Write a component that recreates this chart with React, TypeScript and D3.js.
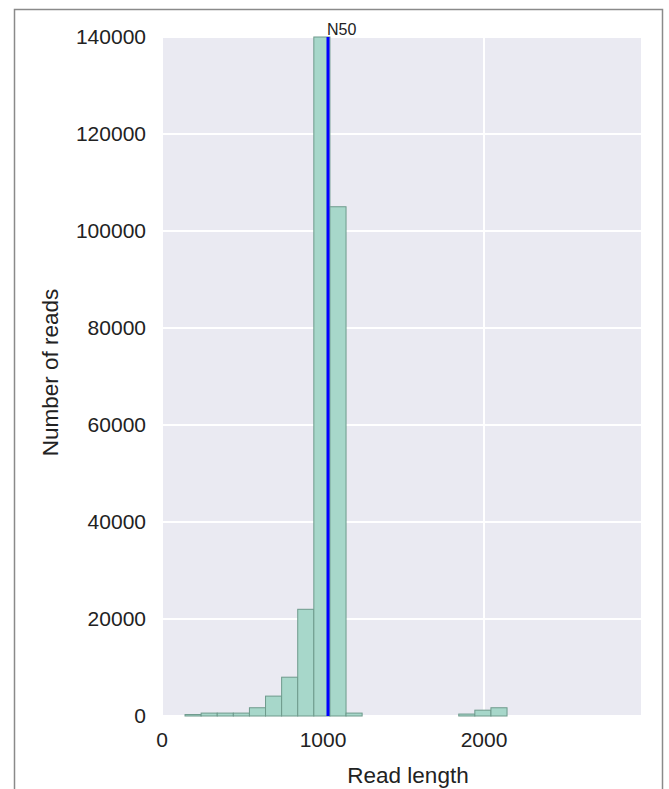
import React, { useEffect, useRef } from 'react';
import * as d3 from 'd3';

// histogram bins (left edge of each bin, read length) and counts
const binStarts = [143, 243, 343, 443, 543, 643, 743, 843, 943, 1043, 1143, 1243, 1343, 1443, 1543, 1643, 1743, 1843, 1943, 2043];
const binWidth = 100;
const counts = [300, 600, 600, 600, 1700, 4100, 8000, 22000, 140000, 105000, 600, 0, 0, 0, 0, 0, 0, 400, 1200, 1700];
const n50 = 1031;
const xTicks = [0, 1000, 2000];
const yTicks = [0, 20000, 40000, 60000, 80000, 100000, 120000, 140000];

const App = () => {
  const svgRef = useRef<SVGSVGElement | null>(null);

  useEffect(() => {
    const W = 669;
    const H = 789;
    const margin = { top: 37, right: 28, bottom: 73, left: 162 };
    const width = W - margin.left - margin.right;
    const height = H - margin.top - margin.bottom;
    const font = 'Liberation Sans, Arial, sans-serif';

    const root = d3.select(svgRef.current);
    root.selectAll('*').remove();

    // outer frame
    root.append('rect')
      .attr('x', 14.5)
      .attr('y', 9.5)
      .attr('width', 648)
      .attr('height', 800)
      .attr('fill', 'white')
      .attr('stroke', '#8a8a8a')
      .attr('stroke-width', 1.5);

    const svg = root.append('g')
      .attr('transform', `translate(${margin.left},${margin.top})`);

    const x = d3.scaleLinear().domain([0, 2975]).range([0, width]);
    const y = d3.scaleLinear().domain([0, 140000]).range([height, 0]);

    // background
    svg.append('rect')
      .attr('width', width)
      .attr('height', height)
      .attr('fill', '#eaeaf2');

    // grid
    svg.append('g')
      .selectAll('line')
      .data(yTicks)
      .enter()
      .append('line')
      .attr('x1', 0)
      .attr('x2', width)
      .attr('y1', d => y(d))
      .attr('y2', d => y(d))
      .attr('stroke', 'white')
      .attr('stroke-width', 2);

    svg.append('g')
      .selectAll('line')
      .data(xTicks)
      .enter()
      .append('line')
      .attr('x1', d => x(d))
      .attr('x2', d => x(d))
      .attr('y1', 0)
      .attr('y2', height)
      .attr('stroke', 'white')
      .attr('stroke-width', 2);

    // bars
    const data = binStarts.map((s, i) => ({ start: s, count: counts[i] })).filter(d => d.count > 0);
    svg.selectAll('.bar')
      .data(data)
      .enter()
      .append('rect')
      .attr('class', 'bar')
      .attr('x', d => x(d.start))
      .attr('y', d => y(d.count))
      .attr('width', d => x(d.start + binWidth) - x(d.start))
      .attr('height', d => height - y(d.count))
      .attr('fill', '#a7d7ca')
      .attr('stroke', '#6e9a8c')
      .attr('stroke-width', 1);

    // N50 line
    svg.append('line')
      .attr('x1', x(n50))
      .attr('x2', x(n50))
      .attr('y1', 0)
      .attr('y2', height)
      .attr('stroke', '#0000ff')
      .attr('stroke-width', 3);

    svg.append('text')
      .attr('x', x(n50) - 1)
      .attr('y', -2)
      .attr('font-family', font)
      .attr('font-size', 16)
      .attr('fill', '#222')
      .text('N50');

    // tick labels
    svg.append('g')
      .selectAll('text')
      .data(xTicks)
      .enter()
      .append('text')
      .attr('x', d => x(d))
      .attr('y', height + 31)
      .attr('text-anchor', 'middle')
      .attr('font-family', font)
      .attr('font-size', 21)
      .attr('fill', '#222')
      .text(d => d);

    svg.append('g')
      .selectAll('text')
      .data(yTicks)
      .enter()
      .append('text')
      .attr('x', -16)
      .attr('y', d => y(d))
      .attr('dy', '0.35em')
      .attr('text-anchor', 'end')
      .attr('font-family', font)
      .attr('font-size', 21)
      .attr('fill', '#222')
      .text(d => d);

    // axis titles
    svg.append('text')
      .attr('x', 246)
      .attr('y', height + 67)
      .attr('text-anchor', 'middle')
      .attr('font-family', font)
      .attr('font-size', 22.5)
      .attr('fill', '#222')
      .text('Read length');

    svg.append('text')
      .attr('transform', `translate(-104,${height / 2 - 4}) rotate(-90)`)
      .attr('text-anchor', 'middle')
      .attr('font-family', font)
      .attr('font-size', 22.5)
      .attr('fill', '#222')
      .text('Number of reads');
  }, []);

  return (
    <svg
      ref={svgRef}
      width={669}
      height={789}
      style={{ position: 'absolute', left: 0, top: 0, background: 'white' }}
    />
  );
};

export default App;
